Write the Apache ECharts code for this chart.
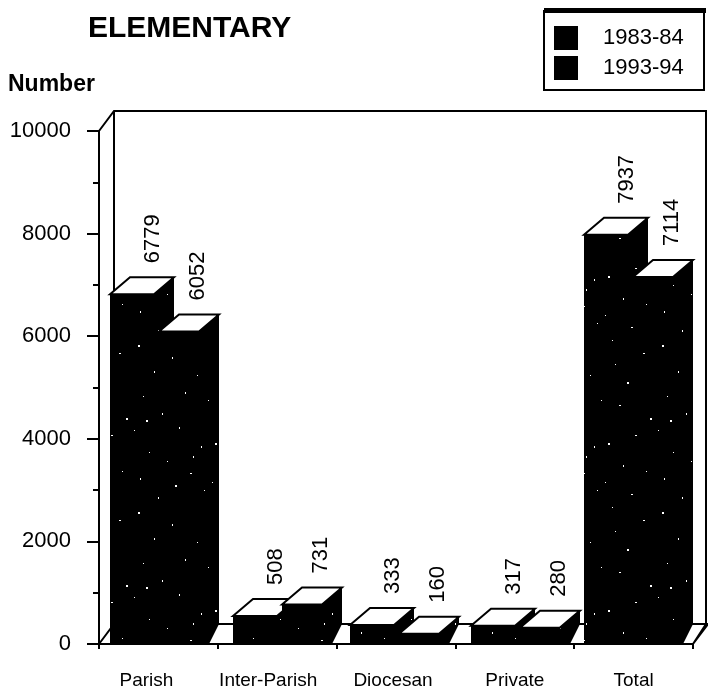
<!DOCTYPE html>
<html>
<head>
<meta charset="utf-8">
<title>ELEMENTARY</title>
<style>
html, body { margin: 0; padding: 0; background: #fff; }
#chart1 { width: 708px; height: 692px; }
</style>
<script src="https://cdn.jsdelivr.net/npm/echarts@6/dist/echarts.min.js"></script>
</head>
<body>
<div id="chart1"></div>
<script>
var categories = ['Parish', 'Inter-Parish', 'Diocesan', 'Private', 'Total'];
var values8384 = [6779, 508, 333, 317, 7937];
var values9394 = [6052, 731, 160, 280, 7114];
var seriesNames = ['1983-84', '1993-94'];

// 扫描件里每组柱子的位置略有偏差
var barNudge = [-2, 2, 0, 2, -4];
var labelNudge = [-12, -9, -3, 0, 0];
var fontName = '"Liberation Sans", Arial, sans-serif';

// 柱子上的白色噪点
var dotsX = [7, 88, 41, 119, 23, 66, 103, 12, 54, 95, 31, 77, 126, 3, 48, 111, 70, 18, 84, 36, 99, 59, 9, 122, 44, 73, 27, 107, 62, 91, 15, 81];
var dotsY = [11, 6, 23, 19, 37, 41, 48, 62, 58, 71, 79, 66, 84, 96, 93, 101, 112, 118, 109, 127, 131, 139, 144, 137, 151, 156, 163, 160, 122, 30, 86, 148];
var speckle = document.createElement('canvas');
speckle.width = 131;
speckle.height = 167;
var ctx = speckle.getContext('2d');
ctx.fillStyle = '#000';
ctx.fillRect(0, 0, 131, 167);
ctx.fillStyle = '#fff';
for (var d = 0; d < dotsX.length; d++) {
    ctx.fillRect(dotsX[d], dotsY[d], d % 3 === 0 ? 2 : 1, d % 2 === 0 ? 2 : 1);
}
var barFill = { image: speckle, repeat: 'repeat' };

function poly(points, fill, stroke) {
    return {
        type: 'polygon',
        shape: { points: points },
        style: { fill: fill, stroke: stroke || null, lineWidth: stroke ? 2 : 0 }
    };
}

function barRender(offset, width) {
    return function (params, api) {
        var i = api.value(0);
        var v = api.value(1);
        var top = api.coord([i, v]);
        var base = api.coord([i, 0])[1];
        var x0 = Math.round(top[0]) - 46 + barNudge[i] + offset;
        var x1 = x0 + width;
        var y = top[1] - 2;
        var dx = 20, dy = 17;
        return {
            type: 'group',
            children: [
                { type: 'rect', shape: { x: x0, y: y, width: width, height: base - y }, style: { fill: barFill } },
                poly([[x1, y], [x1 + dx, y - dy], [x1 + dx, base - 20], [x1 + 10, base], [x1, base]], barFill),
                poly([[x0, y], [x0 + dx, y - dy], [x1 + dx, y - dy], [x1, y]], '#fff', '#000'),
                {
                    type: 'text',
                    x: x1 - 1,
                    y: y - dy - 14,
                    rotation: Math.PI / 2,
                    style: {
                        text: String(v),
                        fill: '#000',
                        font: '22px ' + fontName,
                        align: 'left',
                        verticalAlign: 'middle'
                    }
                }
            ]
        };
    };
}

// 背景墙和地面
function wallRender(params, api) {
    var c = params.coordSys;
    var l = c.x, r = c.x + c.width, t = c.y, b = c.y + c.height;
    var line = { stroke: '#000', lineWidth: 2, fill: null };
    return {
        type: 'polyline',
        shape: {
            points: [
                [l, t], [l + 15, t - 20], [r + 13, t - 20], [r + 13, b - 20], [r, b],
                [r + 15, b - 20], [l + 15, b - 20], [l, b], [l + 15, b - 20], [l + 15, t - 20]
            ]
        },
        style: line
    };
}

function toData(list) {
    return list.map(function (v, i) { return [i, v]; });
}

var richLabels = {};
categories.forEach(function (name, i) {
    var n = labelNudge[i];
    richLabels['c' + i] = {
        fontSize: 19,
        fontFamily: fontName,
        color: '#000',
        padding: [0, n < 0 ? -2 * n : 0, 0, n > 0 ? 2 * n : 0]
    };
});

var mychart = echarts.init(document.getElementById('chart1'), null, { renderer: 'canvas' });

var option = {
    animation: false,
    backgroundColor: '#fff',
    title: [
        { text: 'ELEMENTARY', left: 83, top: 9, textStyle: { fontFamily: fontName, fontSize: 30, fontWeight: 'bold', color: '#000' } },
        { text: 'Number', left: 3, top: 68, textStyle: { fontFamily: fontName, fontSize: 23, fontWeight: 'bold', color: '#000' } }
    ],
    legend: {
        orient: 'vertical',
        left: 554,
        top: 26,
        padding: 0,
        itemWidth: 24,
        itemHeight: 24,
        itemGap: 6,
        icon: 'rect',
        data: seriesNames,
        textStyle: { fontFamily: fontName, fontSize: 22, color: '#000', padding: [4, 0, 0, 20] },
        selectedMode: false
    },
    graphic: [
        { type: 'rect', z: 0, shape: { x: 544, y: 11, width: 160, height: 79 }, style: { fill: '#fff', stroke: '#000', lineWidth: 2 } },
        { type: 'rect', z: 0, shape: { x: 544, y: 8, width: 162, height: 5 }, style: { fill: '#000' } }
    ],
    grid: { left: 99, right: 15, top: 131, bottom: 48 },
    xAxis: {
        type: 'category',
        data: categories,
        axisLine: { show: true, lineStyle: { color: '#000', width: 2 } },
        axisTick: { show: true, length: 5, lineStyle: { color: '#000', width: 2 } },
        splitLine: { show: false },
        axisLabel: {
            margin: 27,
            interval: 0,
            formatter: function (name) {
                return '{c' + categories.indexOf(name) + '|' + name + '}';
            },
            rich: richLabels
        }
    },
    yAxis: {
        type: 'value',
        min: 0,
        max: 10000,
        interval: 2000,
        splitLine: { show: false },
        axisLine: { show: true, lineStyle: { color: '#000', width: 2 } },
        axisTick: { show: true, length: 12, lineStyle: { color: '#000', width: 2 } },
        minorTick: { show: true, splitNumber: 2, length: 6, lineStyle: { color: '#000', width: 2 } },
        axisLabel: {
            margin: 28,
            fontFamily: fontName,
            fontSize: 22,
            color: '#000',
            formatter: function (v) { return String(v); }
        }
    },
    series: [
        { name: 'wall', type: 'custom', silent: true, clip: false, z: 1, data: [[0, 0]], renderItem: wallRender },
        { name: seriesNames[0], type: 'custom', clip: false, z: 2, itemStyle: { color: '#000' }, data: toData(values8384), renderItem: barRender(0, 44) },
        { name: seriesNames[1], type: 'custom', clip: false, z: 3, itemStyle: { color: '#000' }, data: toData(values9394), renderItem: barRender(49, 40) }
    ]
};

mychart.setOption(option);
</script>
</body>
</html>
